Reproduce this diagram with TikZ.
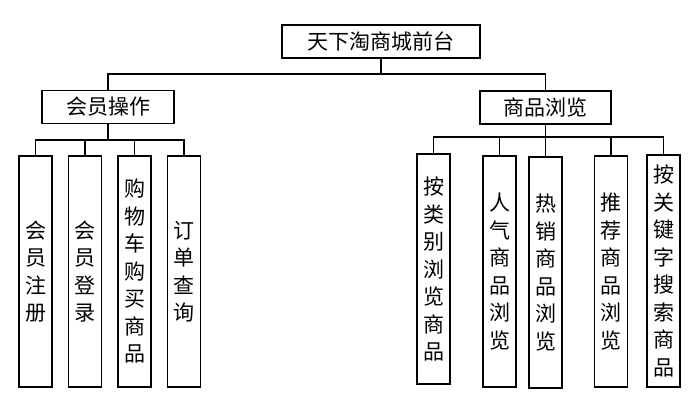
\documentclass[tikz,border=0pt]{standalone}
\usepackage{fontspec}
\newfontfamily\cjk{Noto Sans CJK SC}
\begin{document}
\begin{tikzpicture}[x=1pt,y=-1pt,
  box/.style={draw,line width=1.1pt,inner sep=0pt,font=\cjk\fontsize{21}{27.5}\selectfont},
  hbox/.style={box,minimum height=33pt},
  vbox/.style={box,minimum width=33pt,align=center},
  ln/.style={line width=1.1pt}]
\useasboundingbox (0,0) rectangle (700,412);
\node[hbox,minimum width=198pt] (top) at (381,41.5) {天下淘商城前台};
\node[hbox,minimum width=132pt] (L) at (108,107) {会员操作};
\node[hbox,minimum width=131pt] (R) at (545.5,107.5) {商品浏览};
\node[vbox,minimum height=231pt] (l1) at (35.5,271.5) {会\\员\\注\\册};
\node[vbox,minimum height=231pt] (l2) at (85,271.5) {会\\员\\登\\录};
\node[vbox,minimum height=231pt] (l3) at (134.5,271.5) {购\\物\\车\\购\\买\\商\\品};
\node[vbox,minimum height=231pt] (l4) at (184,271.5) {订\\单\\查\\询};
\node[vbox,minimum height=230pt] (r1) at (433.5,269) {按\\类\\别\\浏\\览\\商\\品};
\node[vbox,minimum height=231pt] (r2) at (499.5,271.5) {人\\气\\商\\品\\浏\\览};
\node[vbox,minimum height=231pt] (r3) at (545.5,272.5) {热\\销\\商\\品\\浏\\览};
\node[vbox,minimum height=231pt] (r4) at (611,271.5) {推\\荐\\商\\品\\浏\\览};
\node[vbox,minimum height=232pt] (r5) at (663.5,271) {按\\关\\键\\字\\搜\\索\\商\\品};
\coordinate (b0) at (381,74);
\coordinate (bl) at (108,140);
\coordinate (br) at (545.5,137);
\draw[ln] (top.south) -- (b0);
\draw[ln] (L.north) |- (b0) -| (R.north);
\draw[ln] (L.south) -- (bl);
\draw[ln] (l1.north) |- (bl) -| (l4.north);
\draw[ln] (l2.north) -- (l2.north |- bl);
\draw[ln] (l3.north) -- (l3.north |- bl);
\draw[ln] (R.south) -- (r3.north);
\draw[ln] (r1.north) |- (br) -| (r5.north);
\draw[ln] (r2.north) -- (r2.north |- br);
\draw[ln] (r4.north) -- (r4.north |- br);
\end{tikzpicture}
\end{document}
